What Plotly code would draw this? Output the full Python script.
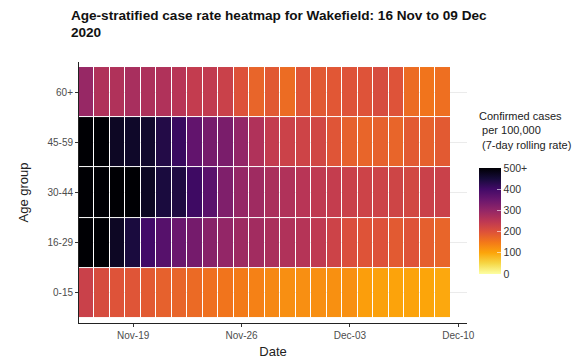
import plotly.graph_objects as go

dates = [
    "2020-11-16", "2020-11-17", "2020-11-18", "2020-11-19", "2020-11-20", "2020-11-21",
    "2020-11-22", "2020-11-23", "2020-11-24", "2020-11-25", "2020-11-26", "2020-11-27",
    "2020-11-28", "2020-11-29", "2020-11-30", "2020-12-01", "2020-12-02", "2020-12-03",
    "2020-12-04", "2020-12-05", "2020-12-06", "2020-12-07", "2020-12-08", "2020-12-09",
]
age_groups = ["0-15", "16-29", "30-44", "45-59", "60+"]

# 7-day rolling case rate per 100,000 (>500 shown as 500+)
rate_0_15 = [230, 210, 198, 195, 188, 180, 175, 168, 160, 155, 148, 140,
             132, 125, 125, 125, 123, 123, 108, 105, 102, 102, 100, 97]
rate_16_29 = [530, 520, 470, 445, 400, 375, 350, 337, 315, 300, 288, 282,
              272, 265, 258, 245, 226, 205, 197, 200, 188, 197, 182, 175]
rate_30_44 = [540, 530, 510, 505, 470, 445, 440, 405, 370, 325, 298, 285,
              272, 265, 255, 245, 238, 230, 226, 226, 224, 218, 230, 230]
rate_45_59 = [520, 520, 470, 465, 460, 435, 410, 360, 335, 330, 300, 265,
              240, 228, 225, 220, 195, 180, 175, 180, 175, 188, 180, 188]
rate_60_plus = [295, 265, 265, 275, 268, 265, 255, 240, 242, 230, 200, 175,
                190, 165, 195, 190, 192, 198, 198, 210, 198, 165, 155, 162]

z = [rate_0_15, rate_16_29, rate_30_44, rate_45_59, rate_60_plus]

inferno_r = [
    [0.0, "#fcffa4"], [0.1, "#f6d746"], [0.2, "#fca50a"], [0.3, "#f37819"],
    [0.4, "#dd513a"], [0.5, "#bc3754"], [0.6, "#932667"], [0.7, "#6a176e"],
    [0.8, "#420a68"], [0.9, "#160b39"], [1.0, "#000004"],
]

fig = go.Figure(
    go.Heatmap(
        x=dates,
        y=list(range(len(age_groups))),
        z=z,
        colorscale=inferno_r,
        zmin=0,
        zmax=500,
        xgap=1,
        ygap=1,
        colorbar=dict(
            x=1.031,
            xanchor="left",
            y=0.188,
            yanchor="bottom",
            len=0.408,
            xpad=0,
            ypad=0,
            thickness=22,
            outlinewidth=0,
            tickvals=[0, 100, 200, 300, 400, 500],
            ticktext=["0", "100", "200", "300", "400", "500+"],
            ticks="inside",
            ticklen=4,
            tickcolor="rgba(255,255,255,0.6)",
            tickfont=dict(size=10.5, color="#333333"),
        ),
    )
)

# colourbar title, placed by hand above the bar
fig.add_annotation(
    text="Confirmed cases<br> per 100,000<br> (7-day rolling rate)",
    xref="paper", yref="paper",
    x=1.025, y=0.822,
    xanchor="left", yanchor="top",
    align="left",
    showarrow=False,
    font=dict(size=11, color="#222222"),
)

fig.update_xaxes(
    type="date",
    range=["2020-11-15 12:00", "2020-12-10 13:30"],
    tickvals=["2020-11-19", "2020-11-26", "2020-12-03", "2020-12-10"],
    tickformat="%b-%d",
    ticks="outside",
    ticklen=3,
    tickcolor="#333333",
    showline=True,
    linecolor="#222222",
    linewidth=1,
    showgrid=False,
    zeroline=False,
    tickfont=dict(size=10, color="#4d4d4d"),
    title=dict(text="Date", font=dict(size=13, color="#222222"), standoff=6),
)
fig.update_yaxes(
    range=[-0.6, 4.6],
    tickvals=list(range(len(age_groups))),
    ticktext=age_groups,
    ticks="outside",
    ticklen=3,
    tickcolor="#333333",
    showline=True,
    linecolor="#222222",
    linewidth=1,
    showgrid=True,
    gridcolor="#ebebeb",
    zeroline=False,
    tickfont=dict(size=10, color="#4d4d4d"),
    title=dict(text="Age group", font=dict(size=13, color="#222222"), standoff=15),
)

fig.update_layout(
    width=586,
    height=362,
    margin=dict(l=79, r=119, t=62, b=39, autoexpand=False),
    paper_bgcolor="white",
    plot_bgcolor="white",
    font=dict(family="Liberation Sans, Arial, sans-serif"),
    title=dict(
        text="<b>Age-stratified case rate heatmap for Wakefield: 16 Nov to 09 Dec<br>2020</b>",
        xref="container",
        x=0.121,
        xanchor="left",
        yref="container",
        y=0.946,
        yanchor="top",
        font=dict(size=13.6, color="#111111"),
    ),
)

fig.write_html(
    "out.html",
    config={"displayModeBar": False},
    post_script="document.body.style.margin = '0';",
)
